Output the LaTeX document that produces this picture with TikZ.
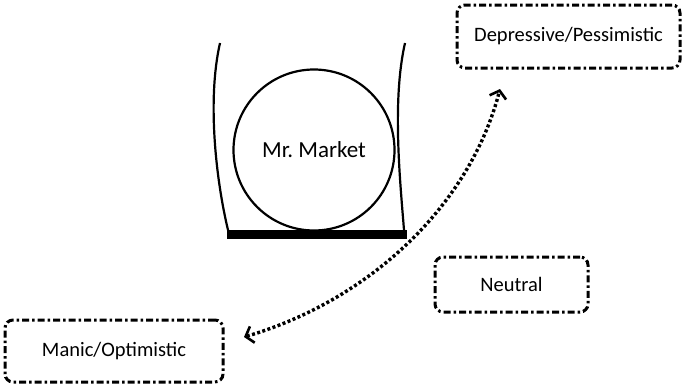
\documentclass[tikz,border=0pt]{standalone}
\usepackage{fontspec}
\setmainfont{Carlito}
\usetikzlibrary{arrows.meta}
\tikzset{
  moodbox/.style={draw, line width=3pt, rounded corners=8pt,
    dash pattern=on 7pt off 3pt on 2.5pt off 3pt,
    font=\fontsize{20.5}{23}\selectfont, inner sep=0pt},
  wall/.style={line width=2.2pt},
  swing/.style={line width=3.4pt, dash pattern=on 3pt off 2.4pt,
    {Straight Barb[length=7pt,width=17pt,line width=2.6pt]}-{Straight Barb[length=7pt,width=17pt,line width=2.6pt]}}
}
\begin{document}
\begin{tikzpicture}[x=1pt,y=-1pt]
\useasboundingbox (0,0) rectangle (682,388);
% walls
\draw[wall] (220,43) .. controls (207,100) and (216,180) .. (228,230);
\draw[wall] (405,43) .. controls (392,100) and (400,180) .. (404,230);
% base
\fill (227,230) rectangle (407,239);
% ball
\node[draw, circle, line width=2.2pt, minimum size=161pt, inner sep=0pt,
  font=\fontsize{23}{26}\selectfont] (market) at (314,150) {Mr.\ Market};
% boxes
\node[moodbox, minimum width=223pt, minimum height=63pt] (dep) at (568.5,36.5) {Depressive/Pessimistic};
\node[moodbox, minimum width=153pt, minimum height=55pt] (neu) at (511.5,284.5) {Neutral};
\node[moodbox, minimum width=218pt, minimum height=62pt] (man) at (114,351) {Manic/Optimistic};
% arrow ends
\coordinate (lo) at (244,337);
\coordinate (hi) at (500,89);
\draw[swing] (lo) .. controls (370,300) and (470,205) .. (hi);
\end{tikzpicture}
\end{document}
